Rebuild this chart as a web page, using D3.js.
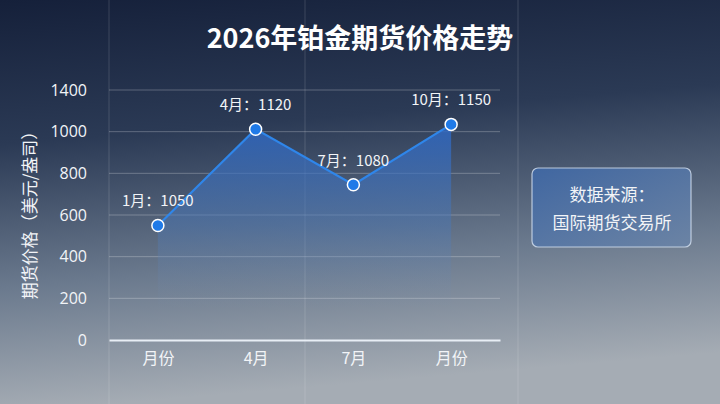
<!DOCTYPE html>
<html>
<head>
<meta charset="utf-8">
<script src="https://cdn.jsdelivr.net/npm/d3@7"></script>
<style>
  html, body { margin: 0; padding: 0; }
  body { width: 720px; height: 404px; overflow: hidden; font-family: "Noto Sans CJK SC", "Noto Sans", sans-serif; }
</style>
</head>
<body>
<svg id="chart"></svg>
<script>
// values
const axisCategories = ["月份", "4月", "7月", "月份"];
const pointMonths = ["1月", "4月", "7月", "10月"];
const plottedValues = [550, 1012, 745, 1035];
const labelValues = [1050, 1120, 1080, 1150];
const yTickValues = [0, 200, 400, 600, 800, 1000, 1200];
const yTickLabels = ["0", "200", "400", "600", "800", "1000", "1400"];

const width = 720, height = 404;
const margin = {top: 90, right: 220, bottom: 64, left: 109};

const svg = d3.select("#chart").attr("width", width).attr("height", height);
const defs = svg.append("defs");

const bg = defs.append("linearGradient").attr("id", "bg").attr("x1", 0).attr("y1", 0).attr("x2", 0.15).attr("y2", 1);
bg.append("stop").attr("offset", "0%").attr("stop-color", "#15203a");
bg.append("stop").attr("offset", "35%").attr("stop-color", "#2b3a55");
bg.append("stop").attr("offset", "70%").attr("stop-color", "#6b7a8e");
bg.append("stop").attr("offset", "100%").attr("stop-color", "#a5acb4");

const areaGrad = defs.append("linearGradient").attr("id", "areaGrad").attr("x1", 0).attr("y1", 0).attr("x2", 0).attr("y2", 1);
areaGrad.append("stop").attr("offset", "0%").attr("stop-color", "#2e68c4").attr("stop-opacity", 0.85);
areaGrad.append("stop").attr("offset", "55%").attr("stop-color", "#4a78b8").attr("stop-opacity", 0.45);
areaGrad.append("stop").attr("offset", "100%").attr("stop-color", "#7890b0").attr("stop-opacity", 0.0);

const boxGrad = defs.append("linearGradient").attr("id", "boxGrad").attr("x1", 0).attr("y1", 0).attr("x2", 1).attr("y2", 1);
boxGrad.append("stop").attr("offset", "0%").attr("stop-color", "#3f68a6");
boxGrad.append("stop").attr("offset", "100%").attr("stop-color", "#6b84a6");

svg.append("rect").attr("width", width).attr("height", height).attr("fill", "url(#bg)");

// faint decorative verticals
[109, 305, 518].forEach(x => {
    svg.append("line")
        .attr("x1", x).attr("x2", x).attr("y1", 0).attr("y2", height)
        .attr("stroke", "#ffffff").attr("stroke-opacity", 0.14).attr("stroke-width", 1);
});

const innerW = width - margin.left - margin.right;
const innerH = height - margin.top - margin.bottom;

const xScale = d3.scalePoint().domain(d3.range(axisCategories.length)).range([0, innerW]).padding(0.5);
const yScale = d3.scaleLinear().domain([0, 1200]).range([innerH, 0]);

const g = svg.append("g").attr("transform", `translate(${margin.left},${margin.top})`);

// grid
g.selectAll("line.grid")
    .data(yTickValues.filter(v => v > 0))
    .join("line")
    .attr("class", "grid")
    .attr("x1", 0).attr("x2", innerW)
    .attr("y1", d => yScale(d)).attr("y2", d => yScale(d))
    .attr("stroke", "#ffffff").attr("stroke-opacity", 0.25);

// area + line
const pts = plottedValues.map((v, i) => ({i, v}));
const area = d3.area().x(d => xScale(d.i)).y0(yScale(150)).y1(d => yScale(d.v));
g.append("path").datum(pts).attr("d", area).attr("fill", "url(#areaGrad)");

const line = d3.line().x(d => xScale(d.i)).y(d => yScale(d.v));
g.append("path").datum(pts).attr("d", line)
    .attr("fill", "none").attr("stroke", "#2f86ea").attr("stroke-width", 2.2);

// x axis
const xAxis = g.append("g").attr("transform", `translate(0,${innerH})`)
    .call(d3.axisBottom(xScale).tickSize(0).tickPadding(13).tickFormat(i => axisCategories[i]));
xAxis.select(".domain").attr("stroke", "#e8eef5").attr("stroke-width", 2);
xAxis.selectAll("text").attr("fill", "#f2f4f7").style("font-size", "16px")
    .style("font-family", "'Noto Sans CJK SC', sans-serif");

// y axis
const yAxis = g.append("g")
    .call(d3.axisLeft(yScale).tickValues(yTickValues).tickSize(0).tickPadding(22)
        .tickFormat((d, i) => yTickLabels[i]));
yAxis.select(".domain").remove();
yAxis.selectAll("text").attr("fill", "#f2f4f7").style("font-size", "16px")
    .style("font-family", "'Open Sans', 'Noto Sans', sans-serif");

// points
g.selectAll("circle.pt")
    .data(pts)
    .join("circle")
    .attr("class", "pt")
    .attr("cx", d => xScale(d.i)).attr("cy", d => yScale(d.v))
    .attr("r", 6)
    .attr("fill", "#1f7ae8").attr("stroke", "#ffffff").attr("stroke-width", 1.5);

g.selectAll("text.lbl")
    .data(pts)
    .join("text")
    .attr("class", "lbl")
    .attr("x", d => xScale(d.i)).attr("y", d => yScale(d.v) - 19)
    .attr("text-anchor", "middle")
    .attr("fill", "#f2f4f7")
    .style("font-size", "15px")
    .text(d => `${pointMonths[d.i]}：${labelValues[d.i]}`);

// y axis title
svg.append("text")
    .attr("transform", `translate(36,${margin.top + innerH / 2 - 4}) rotate(-90)`)
    .attr("text-anchor", "middle")
    .attr("fill", "#f2f4f7")
    .style("font-size", "17px")
    .text("期货价格（美元/盎司）");

// title
svg.append("text")
    .attr("x", 360).attr("y", 48)
    .attr("text-anchor", "middle")
    .attr("fill", "#ffffff")
    .style("font-size", "27px").style("font-weight", "bold")
    .text("2026年铂金期货价格走势");

// source box
const box = svg.append("g").attr("transform", "translate(532,168)");
box.append("rect")
    .attr("width", 159).attr("height", 79).attr("rx", 6)
    .attr("fill", "url(#boxGrad)").attr("fill-opacity", 0.9)
    .attr("stroke", "#d6e2f2").attr("stroke-opacity", 0.8).attr("stroke-width", 1.2);
box.append("text").attr("x", 80).attr("y", 33).attr("text-anchor", "middle")
    .attr("fill", "#f2f4f7").style("font-size", "17px").text("数据来源：");
box.append("text").attr("x", 80).attr("y", 61).attr("text-anchor", "middle")
    .attr("fill", "#f2f4f7").style("font-size", "17px").text("国际期货交易所");
</script>
</body>
</html>
